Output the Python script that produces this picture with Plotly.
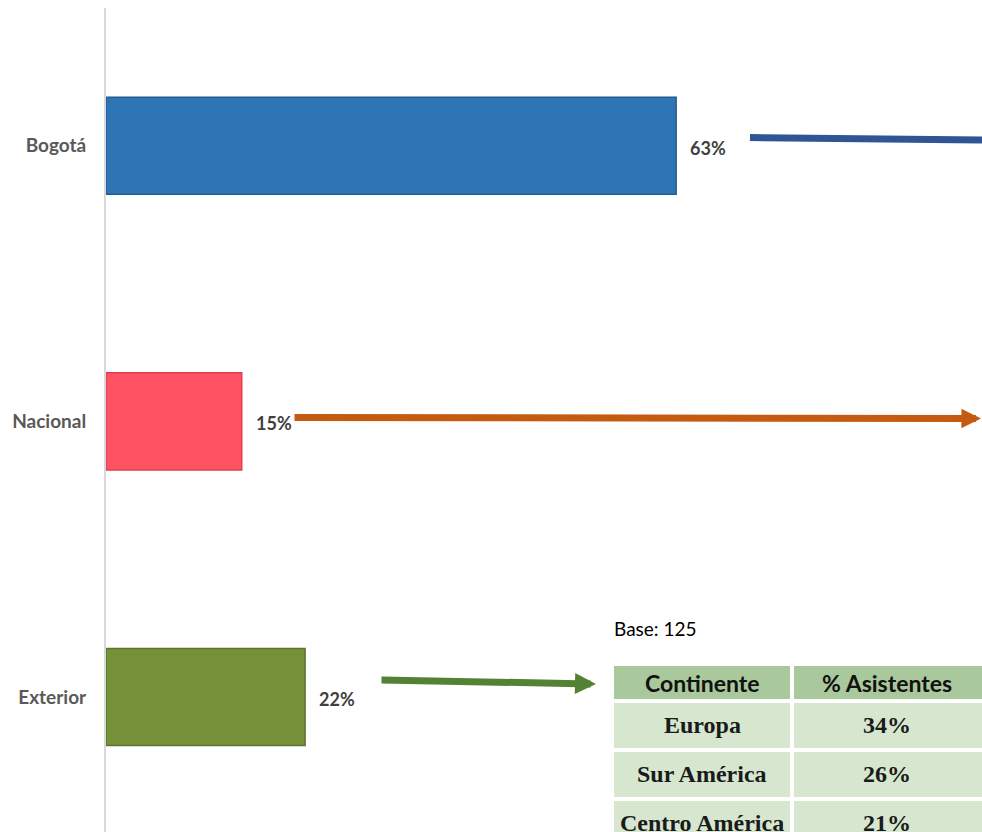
import plotly.graph_objects as go

# ---- data ----
categories = ["Bogotá", "Nacional", "Exterior"]
values = [63, 15, 22]
bar_colors = ["#2E75B6", "#FF5263", "#77903A"]
bar_edges = ["#245D91", "#E04050", "#5E7530"]

base_text = "Base: 125"
table_headers = ["Continente", "% Asistentes"]
continents = ["Europa", "Sur América", "Centro América"]
continent_pct = [34, 26, 21]

W, H = 982, 832
ML, MT = 106, 8
PW, PH = W - ML, H - MT
PX_PER_PCT = 9.05


def px(x):
    return (x - ML) / PW


def py(y):
    return 1 - (y - MT) / PH


fig = go.Figure()
fig.add_trace(go.Bar(
    y=categories, x=values, orientation="h",
    marker=dict(color=bar_colors, line=dict(color=bar_edges, width=1.5)),
    width=0.352, hoverinfo="skip",
))

annotations = []
# value labels
for c, v in zip(categories, values):
    annotations.append(dict(
        x=v, y=c, xref="x", yref="y", text=f"{v}%", showarrow=False,
        xanchor="left", yanchor="middle", xshift=12, yshift=-2,
        font=dict(family="Lato", size=18, color="#404040", weight="bold"),
    ))

# arrows
shapes = [dict(type="line", xref="paper", yref="paper",
               x0=px(750), y0=py(137.5), x1=px(982), y1=py(140),
               line=dict(color="#2F5597", width=7))]
annotations.append(dict(
    xref="paper", yref="paper", x=px(982), y=py(418.5),
    axref="pixel", ayref="pixel", ax=293 - 982, ay=-1,
    text="", showarrow=True, arrowhead=2, arrowsize=0.56, arrowwidth=7,
    arrowcolor="#C55A11", standoff=0, startstandoff=0,
))
annotations.append(dict(
    xref="paper", yref="paper", x=px(596), y=py(684),
    axref="pixel", ayref="pixel", ax=380 - 596, ay=-4,
    text="", showarrow=True, arrowhead=2, arrowsize=0.6, arrowwidth=7,
    arrowcolor="#548235", standoff=0, startstandoff=0,
))

# base text
annotations.append(dict(
    xref="paper", yref="paper", x=px(612), y=py(628), text=base_text,
    showarrow=False, xanchor="left", yanchor="middle",
    font=dict(family="Lato", size=19, color="#000000"),
))

# table
col_x = [(614, 790), (794, 982)]
header_y = (666, 699)
row_h = 49
row_top0 = 703
for (x0, x1), htxt in zip(col_x, table_headers):
    shapes.append(dict(type="rect", xref="paper", yref="paper",
                       x0=px(x0), x1=px(x1), y0=py(header_y[0]), y1=py(header_y[1]),
                       fillcolor="#A9C89B", line=dict(width=0), layer="below"))
    annotations.append(dict(
        xref="paper", yref="paper", x=px((x0 + min(x1, 980)) / 2),
        y=py((header_y[0] + header_y[1]) / 2), text=htxt, showarrow=False,
        xanchor="center", yanchor="middle",
        font=dict(family="Lato", size=23, color="#111111", weight="bold"),
    ))
for i, (cont, pct) in enumerate(zip(continents, continent_pct)):
    y0 = row_top0 + i * row_h
    y1 = min(y0 + row_h - 4, H)
    for j, ((x0, x1), txt) in enumerate(zip(col_x, [cont, f"{pct}%"])):
        shapes.append(dict(type="rect", xref="paper", yref="paper",
                           x0=px(x0), x1=px(x1), y0=py(y0), y1=py(y1),
                           fillcolor="#D7E6CF", line=dict(width=0), layer="below"))
        annotations.append(dict(
            xref="paper", yref="paper", x=px((x0 + min(x1, 980)) / 2),
            y=py(y0 + 22), text=f"<b>{txt}</b>", showarrow=False,
            xanchor="center", yanchor="middle",
            font=dict(family="Liberation Serif", size=24, color="#1A1A1A"),
        ))

fig.update_layout(
    width=W, height=H,
    margin=dict(l=ML, r=0, t=MT, b=0, pad=0),
    plot_bgcolor="white", paper_bgcolor="white",
    showlegend=False,
    xaxis=dict(range=[0, PW / PX_PER_PCT], visible=False, fixedrange=True),
    yaxis=dict(range=[2.49, -0.5], showline=True, linecolor="#D9D9D9", linewidth=2,
               showgrid=False, zeroline=False, ticks="", ticklabelstandoff=14,
               tickfont=dict(family="Lato", size=19, color="#595959", weight="bold"),
               fixedrange=True),
    shapes=shapes, annotations=annotations,
)

fig.write_html(
    "out.html",
    config={"displayModeBar": False},
    post_script="document.body.style.margin='0';document.body.style.overflow='hidden';",
)
